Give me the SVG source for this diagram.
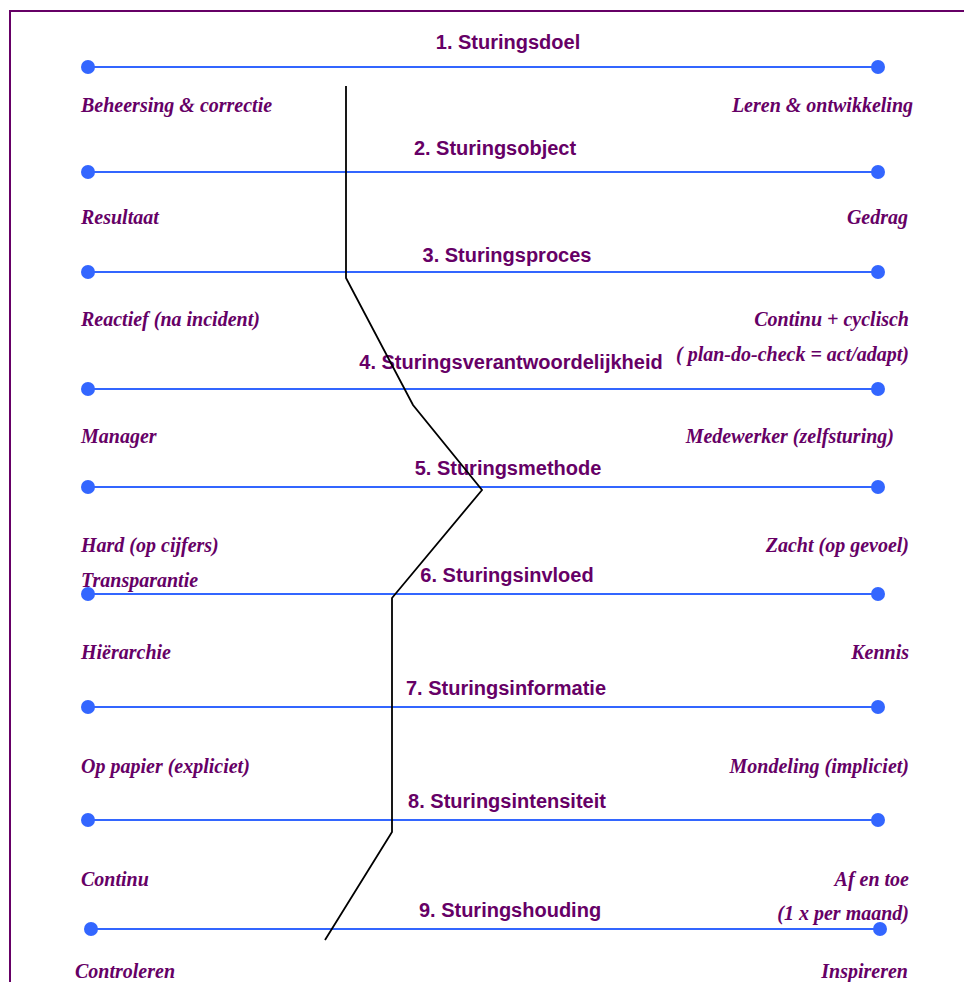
<svg xmlns="http://www.w3.org/2000/svg" width="964" height="982" viewBox="0 0 964 982">
<style>
.t{font-family:"Liberation Sans",Arial,sans-serif;font-weight:bold;font-size:20px;fill:#660066;text-anchor:middle}
.l{font-family:"Liberation Serif","Times New Roman",serif;font-weight:bold;font-style:italic;font-size:20px;fill:#660066}
.r{font-family:"Liberation Serif","Times New Roman",serif;font-weight:bold;font-style:italic;font-size:20px;fill:#660066;text-anchor:end}
.ax{stroke:#3366ff;stroke-width:2.2}
.d{fill:#3366ff}
</style>
<rect width="964" height="982" fill="#fff"/>
<path d="M10 982 V11 H964" fill="none" stroke="#660066" stroke-width="2"/>
<g id="scale1"><line class="ax" x1="88" y1="67" x2="878" y2="67"/><circle class="d" cx="88" cy="67" r="7"/><circle class="d" cx="878" cy="67" r="7"/><text class="t" x="508" y="49">1. Sturingsdoel</text><text class="l" x="81" y="112">Beheersing &amp; correctie</text><text class="r" x="913" y="112">Leren &amp; ontwikkeling</text></g>
<g id="scale2"><line class="ax" x1="88" y1="172" x2="878" y2="172"/><circle class="d" cx="88" cy="172" r="7"/><circle class="d" cx="878" cy="172" r="7"/><text class="t" x="495" y="155">2. Sturingsobject</text><text class="l" x="81" y="224">Resultaat</text><text class="r" x="908" y="224">Gedrag</text></g>
<g id="scale3"><line class="ax" x1="88" y1="272" x2="878" y2="272"/><circle class="d" cx="88" cy="272" r="7"/><circle class="d" cx="878" cy="272" r="7"/><text class="t" x="507" y="262">3. Sturingsproces</text><text class="l" x="81" y="326">Reactief (na incident)</text><text class="r" x="909" y="326">Continu + cyclisch</text><text class="r" x="909" y="361">( plan-do-check = act/adapt)</text></g>
<g id="scale4"><line class="ax" x1="88" y1="389" x2="878" y2="389"/><circle class="d" cx="88" cy="389" r="7"/><circle class="d" cx="878" cy="389" r="7"/><text class="t" x="511" y="369">4. Sturingsverantwoordelijkheid</text><text class="l" x="81" y="443">Manager</text><text class="r" x="894" y="443">Medewerker (zelfsturing)</text></g>
<g id="scale5"><line class="ax" x1="88" y1="487" x2="878" y2="487"/><circle class="d" cx="88" cy="487" r="7"/><circle class="d" cx="878" cy="487" r="7"/><text class="t" x="508" y="475">5. Sturingsmethode</text><text class="l" x="81" y="552">Hard (op cijfers)</text><text class="r" x="909" y="552">Zacht (op gevoel)</text></g>
<g id="scale6"><line class="ax" x1="88" y1="594" x2="878" y2="594"/><circle class="d" cx="88" cy="594" r="7"/><circle class="d" cx="878" cy="594" r="7"/><text class="t" x="507" y="582">6. Sturingsinvloed</text><text class="l" x="81" y="587">Transparantie</text><text class="l" x="81" y="659">Hiërarchie</text><text class="r" x="909" y="659">Kennis</text></g>
<g id="scale7"><line class="ax" x1="88" y1="707" x2="878" y2="707"/><circle class="d" cx="88" cy="707" r="7"/><circle class="d" cx="878" cy="707" r="7"/><text class="t" x="506" y="695">7. Sturingsinformatie</text><text class="l" x="81" y="773">Op papier (expliciet)</text><text class="r" x="909" y="773">Mondeling (impliciet)</text></g>
<g id="scale8"><line class="ax" x1="88" y1="820" x2="878" y2="820"/><circle class="d" cx="88" cy="820" r="7"/><circle class="d" cx="878" cy="820" r="7"/><text class="t" x="507" y="808">8. Sturingsintensiteit</text><text class="l" x="81" y="886">Continu</text><text class="r" x="909" y="886">Af en toe</text></g>
<g id="scale9"><line class="ax" x1="91" y1="929" x2="880" y2="929"/><circle class="d" cx="91" cy="929" r="7"/><circle class="d" cx="880" cy="929" r="7"/><text class="t" x="510" y="917">9. Sturingshouding</text><text class="r" x="909" y="920">(1 x per maand)</text><text class="l" x="75" y="978">Controleren</text><text class="r" x="908" y="978">Inspireren</text></g>
<g id="connectors"><polyline points="346,86 346,278 413,405 482,490 392,598 392,832 325,940" fill="none" stroke="#000" stroke-width="1.8"/></g>
</svg>
